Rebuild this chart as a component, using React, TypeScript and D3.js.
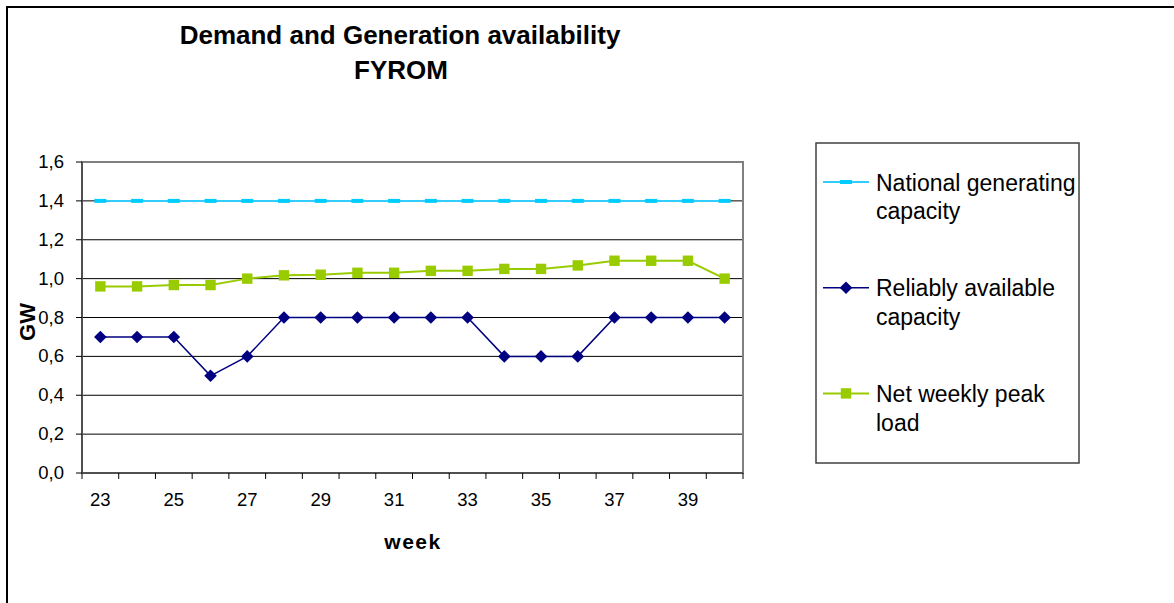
import React from "react";
import * as d3 from "d3";

const weeks = [23, 24, 25, 26, 27, 28, 29, 30, 31, 32, 33, 34, 35, 36, 37, 38, 39, 40];
const nationalCapacity = [1.4, 1.4, 1.4, 1.4, 1.4, 1.4, 1.4, 1.4, 1.4, 1.4, 1.4, 1.4, 1.4, 1.4, 1.4, 1.4, 1.4, 1.4];
const reliableCapacity = [0.7, 0.7, 0.7, 0.5, 0.6, 0.8, 0.8, 0.8, 0.8, 0.8, 0.8, 0.6, 0.6, 0.6, 0.8, 0.8, 0.8, 0.8];
const peakLoad = [0.96, 0.96, 0.967, 0.967, 1.0, 1.017, 1.02, 1.03, 1.03, 1.04, 1.04, 1.05, 1.05, 1.068, 1.092, 1.092, 1.092, 1.0];
const yTicks = [0, 0.2, 0.4, 0.6, 0.8, 1.0, 1.2, 1.4, 1.6];
const xLabelWeeks = [23, 25, 27, 29, 31, 33, 35, 37, 39];
const titleLines = ["Demand and Generation availability", "FYROM"];
const legendLabels = [
  ["National generating", "capacity"],
  ["Reliably available", "capacity"],
  ["Net weekly peak", "load"],
];

const FONT = "'Liberation Sans', Arial, Helvetica, sans-serif";
const CYAN_LINE = "#33CCFF";
const CYAN = "#00CCFF";
const NAVY = "#000080";
const GREEN = "#99CC00";

type Marker = "dash" | "diamond" | "square";

function MarkerShape({ kind, x, y, color }: { kind: Marker; x: number; y: number; color: string }) {
  if (kind === "dash") return <rect x={x - 6} y={y - 2} width={12} height={4} fill={color} />;
  if (kind === "diamond")
    return <path d={`M${x},${y - 6.3}L${x + 6.3},${y}L${x},${y + 6.3}L${x - 6.3},${y}Z`} fill={color} />;
  return <rect x={x - 5.2} y={y - 5.2} width={10.4} height={10.4} fill={color} />;
}

export default function App() {
  const left = 82, right = 743, top = 162, bottom = 473;
  const x = d3.scaleBand<number>().domain(weeks).range([left, right]).padding(0);
  const y = d3.scaleLinear().domain([0, 1.6]).range([bottom, top]);
  const cx = (w: number) => (x(w) as number) + x.bandwidth() / 2;

  const series = [
    { values: nationalCapacity, color: CYAN_LINE, mcolor: CYAN, marker: "dash" as Marker, width: 2 },
    { values: reliableCapacity, color: NAVY, mcolor: NAVY, marker: "diamond" as Marker, width: 1.5 },
    { values: peakLoad, color: GREEN, mcolor: GREEN, marker: "square" as Marker, width: 2 },
  ];

  const line = d3
    .line<number>()
    .x((_, i) => cx(weeks[i]))
    .y((v) => y(v));

  const legendX0 = 823, legendX1 = 869, legendY0 = 182, legendStep = 105.7;

  return (
    <svg
      width={1174}
      height={603}
      style={{ position: "absolute", left: 0, top: 0, display: "block", background: "#fff" }}
      fontFamily={FONT}
    >
      <rect x={0} y={0} width={1174} height={603} fill="#fff" />
      <path d="M7,603V7H1174" fill="none" stroke="#000" strokeWidth={2} />

      {/* Title */}
      <text x={400} y={44} textAnchor="middle" fontSize={26} fontWeight="bold" fill="#000">
        {titleLines[0]}
      </text>
      <text x={401} y={79} textAnchor="middle" fontSize={26} fontWeight="bold" fill="#000">
        {titleLines[1]}
      </text>

      {/* Gridlines */}
      {yTicks.filter((t) => t > 0 && t < 1.6).map((t) => (
        <line key={t} x1={left} x2={right} y1={y(t)} y2={y(t)} stroke="#000" strokeWidth={1} />
      ))}
      {/* Plot border */}
      <rect x={left} y={top} width={right - left} height={bottom - top} fill="none" stroke="#808080" strokeWidth={2} />
      {/* Axes */}
      <line x1={left} x2={left} y1={top} y2={bottom} stroke="#505050" strokeWidth={2} />
      <line x1={left} x2={right} y1={bottom} y2={bottom} stroke="#505050" strokeWidth={2} />

      {/* Y ticks & labels */}
      {yTicks.map((t) => (
        <g key={t}>
          <line x1={left - 6} x2={left} y1={y(t)} y2={y(t)} stroke="#000" strokeWidth={1} />
          <text x={64} y={y(t) + 6} textAnchor="end" fontSize={18.5} fill="#000">
            {d3.format(".1f")(t).replace(".", ",")}
          </text>
        </g>
      ))}

      {/* X ticks */}
      {weeks.concat([weeks[weeks.length - 1] + 1]).map((w, i) => {
        const xx = left + i * x.bandwidth();
        return <line key={i} x1={xx} x2={xx} y1={bottom} y2={bottom + 6} stroke="#000" strokeWidth={1} />;
      })}
      {xLabelWeeks.map((w) => (
        <text key={w} x={cx(w)} y={506} textAnchor="middle" fontSize={18.5} fill="#000">
          {w}
        </text>
      ))}

      {/* Axis titles */}
      <text x={413} y={549} textAnchor="middle" fontSize={21} fontWeight="bold" letterSpacing={1.5} fill="#000">
        week
      </text>
      <text
        transform={`translate(35,322) rotate(-90)`}
        textAnchor="middle"
        fontSize={22}
        fontWeight="bold"
        fill="#000"
      >
        GW
      </text>

      {/* Series */}
      {series.map((s, si) => (
        <g key={si}>
          <path d={line(s.values) || ""} fill="none" stroke={s.color} strokeWidth={s.width} />
          {s.values.map((v, i) => (
            <MarkerShape key={i} kind={s.marker} x={cx(weeks[i])} y={y(v)} color={s.mcolor} />
          ))}
        </g>
      ))}

      {/* Legend */}
      <rect x={816} y={143} width={263} height={320} fill="#fff" stroke="#404040" strokeWidth={1.5} />
      {series.map((s, i) => {
        const ly = legendY0 + i * legendStep;
        return (
          <g key={i}>
            <line x1={legendX0} x2={legendX1} y1={ly} y2={ly} stroke={s.color} strokeWidth={s.width} />
            <MarkerShape kind={s.marker} x={(legendX0 + legendX1) / 2} y={ly} color={s.mcolor} />
            <text x={876} y={ly + 8.7} fontSize={23} fill="#000">
              {legendLabels[i][0]}
            </text>
            <text x={876} y={ly + 37.2} fontSize={23} fill="#000">
              {legendLabels[i][1]}
            </text>
          </g>
        );
      })}
    </svg>
  );
}
